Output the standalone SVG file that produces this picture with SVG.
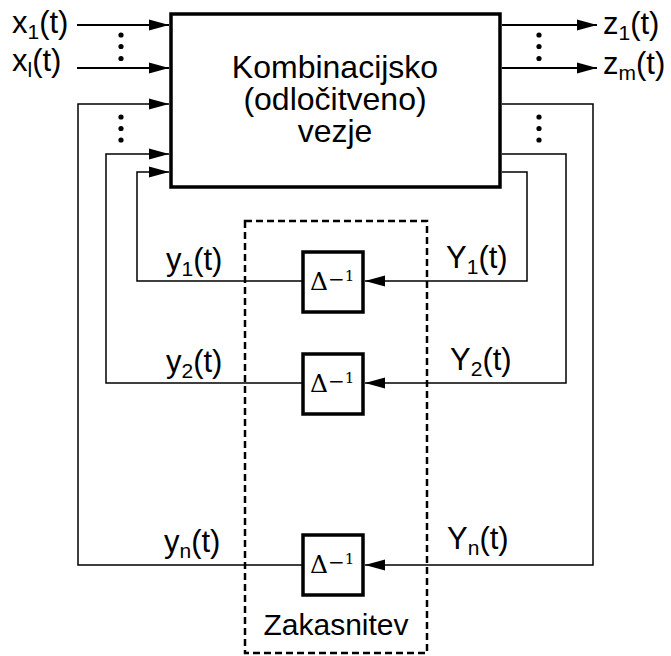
<svg xmlns="http://www.w3.org/2000/svg" width="671" height="656" viewBox="0 0 671 656">
<defs>
<marker id="arr" markerUnits="userSpaceOnUse" markerWidth="20" markerHeight="12" refX="20" refY="6" orient="auto">
<path d="M0,0.5 L20,6 L0,11.5 z" fill="#000"/>
</marker>
<style>
.t{font-family:"Liberation Sans",Arial,sans-serif;fill:#000}
.lbl{font-size:31px}
.sub{font-size:21px}
.main{font-size:32px;text-anchor:middle}
.thick{fill:none;stroke:#000;stroke-width:2}
.thin{fill:none;stroke:#000;stroke-width:1.5}
.box{fill:#fff;stroke:#000;stroke-width:3.5}
.dly{fill:#fff;stroke:#000;stroke-width:3.5}
.dtxt{font-family:"DejaVu Serif","Liberation Serif",serif;fill:#000}
.dd{font-size:25px}
.dm{font-size:20px}
.d1{font-size:15px}
</style>
</defs>
<g id="connectors">
<path class="thick" d="M77,25 H169" marker-end="url(#arr)"/>
<path class="thick" d="M77,68 H169" marker-end="url(#arr)"/>
<path class="thick" d="M502,25 H597" marker-end="url(#arr)"/>
<path class="thick" d="M502,68 H597" marker-end="url(#arr)"/>
<path class="thin" d="M303,281 H137 V172 H169" marker-end="url(#arr)"/>
<path class="thin" d="M303,383 H106 V154 H169" marker-end="url(#arr)"/>
<path class="thin" d="M303,565 H78 V104 H169" marker-end="url(#arr)"/>
<path class="thin" d="M502,172 H527 V281 H365" marker-end="url(#arr)"/>
<path class="thin" d="M502,154 H566 V383 H365" marker-end="url(#arr)"/>
<path class="thin" d="M502,104 H593 V565 H365" marker-end="url(#arr)"/>
</g>
<g id="dots">
<circle cx="121" cy="35" r="2.6"/><circle cx="121" cy="46.5" r="2.6"/><circle cx="121" cy="58.5" r="2.6"/>
<circle cx="121" cy="117" r="2.6"/><circle cx="121" cy="128.5" r="2.6"/><circle cx="121" cy="140" r="2.6"/>
<circle cx="539" cy="35" r="2.6"/><circle cx="539" cy="46.5" r="2.6"/><circle cx="539" cy="58.5" r="2.6"/>
<circle cx="539" cy="117" r="2.6"/><circle cx="539" cy="128.5" r="2.6"/><circle cx="539" cy="140" r="2.6"/>
</g>
<g id="comb">
<rect class="box" x="171" y="14" width="329" height="173"/>
<text class="t main" x="335" y="78">Kombinacijsko</text>
<text class="t main" x="335" y="110">(odločitveno)</text>
<text class="t main" x="335" y="142">vezje</text>
</g>
<g id="delays">
<rect x="245" y="221" width="182" height="432" fill="none" stroke="#000" stroke-width="2.5" stroke-dasharray="7 4"/>
<text class="t" x="336" y="635" font-size="30" text-anchor="middle">Zakasnitev</text>
</g>
<g id="d1">
<rect class="dly" x="303" y="252" width="60" height="60"/>
<text class="dtxt dd" x="310" y="290">Δ<tspan class="dm" y="286">−</tspan><tspan class="d1" y="281">1</tspan></text>
</g>
<g id="d2">
<rect class="dly" x="303" y="354" width="60" height="60"/>
<text class="dtxt dd" x="310" y="392">Δ<tspan class="dm" y="388">−</tspan><tspan class="d1" y="383">1</tspan></text>
</g>
<g id="dn">
<rect class="dly" x="303" y="535" width="60" height="60"/>
<text class="dtxt dd" x="310" y="573">Δ<tspan class="dm" y="569">−</tspan><tspan class="d1" y="564">1</tspan></text>
</g>
<g id="labels">
<text class="t lbl" x="12" y="33">x<tspan class="sub" dy="6">1</tspan><tspan dy="-6">(t)</tspan></text>
<text class="t lbl" x="12" y="71">x<tspan class="sub" dy="6">l</tspan><tspan dy="-6">(t)</tspan></text>
<text class="t lbl" x="603" y="34">z<tspan class="sub" dy="6">1</tspan><tspan dy="-6">(t)</tspan></text>
<text class="t lbl" x="603" y="74">z<tspan class="sub" dy="6">m</tspan><tspan dy="-6">(t)</tspan></text>
<text class="t lbl" x="166" y="270">y<tspan class="sub" dy="6">1</tspan><tspan dy="-6">(t)</tspan></text>
<text class="t lbl" x="446" y="268">Y<tspan class="sub" dy="6">1</tspan><tspan dy="-6">(t)</tspan></text>
<text class="t lbl" x="166" y="372">y<tspan class="sub" dy="6">2</tspan><tspan dy="-6">(t)</tspan></text>
<text class="t lbl" x="450" y="370">Y<tspan class="sub" dy="6">2</tspan><tspan dy="-6">(t)</tspan></text>
<text class="t lbl" x="164" y="552">y<tspan class="sub" dy="6">n</tspan><tspan dy="-6">(t)</tspan></text>
<text class="t lbl" x="447" y="549">Y<tspan class="sub" dy="6">n</tspan><tspan dy="-6">(t)</tspan></text>
</g>
</svg>
